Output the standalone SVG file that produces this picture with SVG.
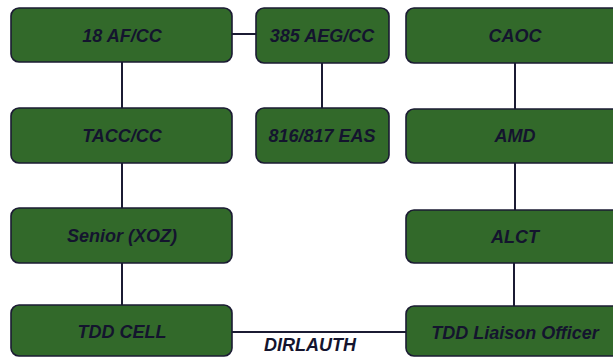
<svg xmlns="http://www.w3.org/2000/svg" width="613" height="358" viewBox="0 0 613 358">
<style>
.box{fill:#32692a;stroke:#1b1b33;stroke-width:1.6}
.lbl{font-family:"Liberation Sans",Arial,sans-serif;font-weight:bold;font-style:italic;font-size:18px;fill:#14142e;text-anchor:middle}
.ln{stroke:#1b1b33;stroke-width:2;fill:none}
</style>
<rect width="613" height="358" fill="#ffffff"/>
<g id="connectors">
<line class="ln" x1="232" y1="34" x2="256" y2="34"/>
<line class="ln" x1="122" y1="62" x2="122" y2="108"/>
<line class="ln" x1="122" y1="163" x2="122" y2="208"/>
<line class="ln" x1="122" y1="263" x2="122" y2="305"/>
<line class="ln" x1="322" y1="63" x2="322" y2="108"/>
<line class="ln" x1="515" y1="62" x2="515" y2="109"/>
<line class="ln" x1="515" y1="163" x2="515" y2="210"/>
<line class="ln" x1="514" y1="263" x2="514" y2="306"/>
<line class="ln" x1="232" y1="332" x2="406" y2="332"/>
<text class="lbl" x="310" y="351">DIRLAUTH</text>
</g>
<g id="n18af"><rect class="box" x="11" y="8" width="221" height="54" rx="8"/><text class="lbl" x="122" y="42">18 AF/CC</text></g>
<g id="n385"><rect class="box" x="256" y="8" width="133" height="55" rx="8"/><text class="lbl" x="322" y="42">385 AEG/CC</text></g>
<g id="caoc"><rect class="box" x="406" y="8" width="230" height="55" rx="8"/><text class="lbl" x="515" y="42">CAOC</text></g>
<g id="tacc"><rect class="box" x="11" y="108" width="221" height="55" rx="8"/><text class="lbl" x="122" y="142">TACC/CC</text></g>
<g id="eas"><rect class="box" x="256" y="108" width="133" height="55" rx="8"/><text class="lbl" x="322" y="142">816/817 EAS</text></g>
<g id="amd"><rect class="box" x="406" y="109" width="230" height="54" rx="8"/><text class="lbl" x="515" y="142">AMD</text></g>
<g id="senior"><rect class="box" x="11" y="208" width="221" height="55" rx="8"/><text class="lbl" x="122" y="242">Senior (XOZ)</text></g>
<g id="alct"><rect class="box" x="406" y="210" width="230" height="53" rx="8"/><text class="lbl" x="515" y="243">ALCT</text></g>
<g id="tddcell"><rect class="box" x="11" y="305" width="221" height="51" rx="8"/><text class="lbl" x="122" y="338">TDD CELL</text></g>
<g id="tddlo"><rect class="box" x="406" y="306" width="230" height="50" rx="8"/><text class="lbl" x="515" y="339">TDD Liaison Officer</text></g>
</svg>
